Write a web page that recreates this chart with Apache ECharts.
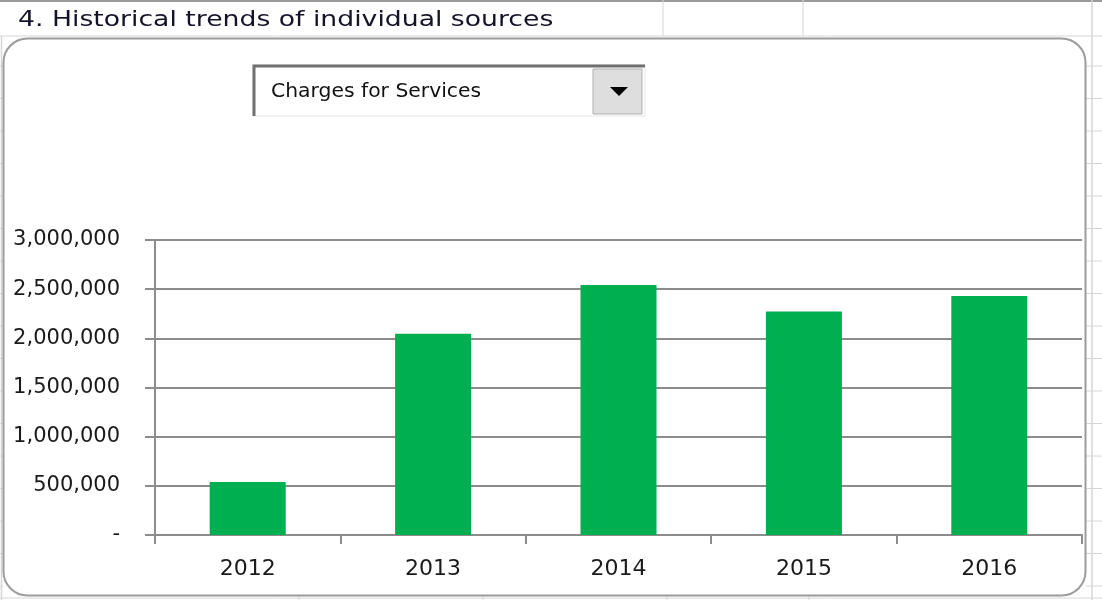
<!DOCTYPE html>
<html>
<head>
<meta charset="utf-8">
<script src="https://cdn.jsdelivr.net/npm/echarts@6/dist/echarts.min.js"></script>
<style>
html,body{margin:0;padding:0;background:#fff;}
#chart{width:1102px;height:600px;}
</style>
</head>
<body>
<div id="chart"></div>
<script>
const categories = ['2012', '2013', '2014', '2015', '2016'];
const values = [540000, 2046000, 2543000, 2273000, 2431000];
const yTicks = { min: 0, max: 3000000, interval: 500000 };
const sheetTitle = '4. Historical trends of individual sources';
const dropdownText = 'Charges for Services';

function fmt(v) {
  if (v === 0) return '-';
  return String(v).replace(/\B(?=(\d{3})+(?!\d))/g, ',');
}

const sheetLine = '#d6d6d6';
const deco = [];
deco.push({type:'line', shape:{x1:0,y1:36,x2:1102,y2:36}, style:{stroke:sheetLine,lineWidth:1}, z:-5});
deco.push({type:'line', shape:{x1:0,y1:1,x2:1102,y2:1}, style:{stroke:'#9a9a9a',lineWidth:2}, z:-5});
[663, 803].forEach(x => deco.push({type:'line', shape:{x1:x,y1:0,x2:x,y2:36}, style:{stroke:sheetLine,lineWidth:1}, z:-5}));
deco.push({type:'line', shape:{x1:1092,y1:0,x2:1092,y2:600}, style:{stroke:sheetLine,lineWidth:1.5}, z:-5});
deco.push({type:'line', shape:{x1:1.5,y1:36,x2:1.5,y2:600}, style:{stroke:sheetLine,lineWidth:1.5}, z:-5});
for (let y = 66; y < 600; y += 32.5) {
  deco.push({type:'line', shape:{x1:1086,y1:y,x2:1102,y2:y}, style:{stroke:sheetLine,lineWidth:1}, z:-5});
  deco.push({type:'line', shape:{x1:0,y1:y,x2:3,y2:y}, style:{stroke:sheetLine,lineWidth:1}, z:-5});
}
deco.push({type:'line', shape:{x1:0,y1:598,x2:1102,y2:598}, style:{stroke:sheetLine,lineWidth:1}, z:-5});
[299, 483, 667, 809].forEach(x => deco.push({type:'line', shape:{x1:x,y1:596,x2:x,y2:600}, style:{stroke:sheetLine,lineWidth:1}, z:-5}));

deco.push({type:'rect', shape:{x:3.5,y:38.5,width:1082,height:557,r:24},
  style:{fill:'rgba(0,0,0,0)', stroke:'#9c9c9c', lineWidth:2}, z:-4});

deco.push({type:'text', x:18, y:21, scaleX:1.27, style:{text:sheetTitle, font:'21px "DejaVu Sans"', fill:'#141428', textVerticalAlign:'middle'}, z:5});

deco.push({type:'rect', shape:{x:253,y:65,width:392,height:51}, style:{fill:'#ffffff', stroke:'#e6e6e6', lineWidth:1}, z:5});
deco.push({type:'polyline', shape:{points:[[254,116],[254,66],[645,66]]}, style:{stroke:'#707070', lineWidth:3, fill:null}, z:6});
deco.push({type:'rect', shape:{x:593,y:69,width:49,height:45}, style:{fill:'#dedede', stroke:'#b0b0b0', lineWidth:1}, z:6});
deco.push({type:'polygon', shape:{points:[[610,87],[628,87],[619,96]]}, style:{fill:'#000'}, z:7});
deco.push({type:'text', x:271, y:92, scaleX:1.07, style:{text:dropdownText, font:'19px "DejaVu Sans"', fill:'#111', textVerticalAlign:'middle'}, z:7});

const chart = echarts.init(document.getElementById('chart'), null, {renderer:'canvas'});
chart.setOption({
  animation: false,
  backgroundColor: '#ffffff',
  graphic: deco,
  grid: { left: 155, right: 20, top: 240, bottom: 65, containLabel: false },
  xAxis: {
    type: 'category',
    data: categories,
    axisLine: { lineStyle: { color: '#8c8c8c', width: 2 } },
    axisTick: { show: true, length: 9, alignWithLabel: false, lineStyle: { color: '#8c8c8c', width: 2 } },
    axisLabel: { color: '#1a1a1a', fontFamily: 'DejaVu Sans', fontSize: 22, margin: 23 }
  },
  yAxis: {
    type: 'value',
    min: yTicks.min, max: yTicks.max, interval: yTicks.interval,
    axisLine: { show: true, lineStyle: { color: '#8c8c8c', width: 2 } },
    axisTick: { show: true, length: 10, lineStyle: { color: '#8c8c8c', width: 2 } },
    splitLine: { lineStyle: { color: '#8c8c8c', width: 2 } },
    axisLabel: { color: '#1a1a1a', fontFamily: 'DejaVu Sans', fontSize: 21, margin: 35, formatter: fmt }
  },
  series: [{
    type: 'bar',
    data: values,
    barWidth: '41%',
    itemStyle: { color: '#00b050' }
  }]
});
</script>
</body>
</html>
